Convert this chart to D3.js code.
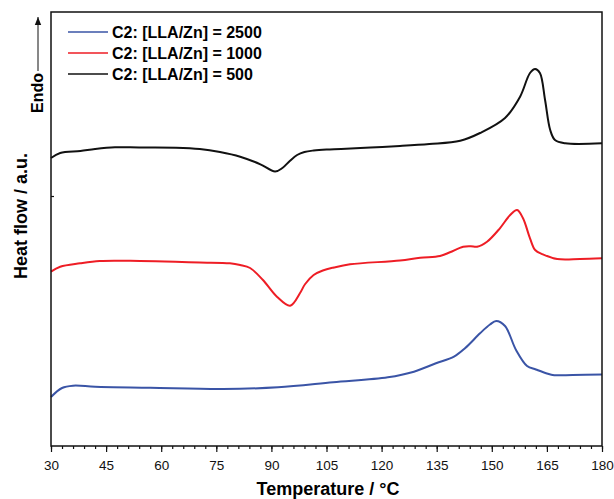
<!DOCTYPE html>
<html>
<head>
<meta charset="utf-8">
<script src="https://cdn.jsdelivr.net/npm/d3@7"></script>
<style>
  body { margin: 0; background: #fff; }
  text { font-family: Arial, "Liberation Sans", sans-serif; }
</style>
</head>
<body>
<div id="chart"></div>
<script>
// DSC curves, temperature (°C) vs heat flow (a.u., offset per curve)
var xTicks = [30, 45, 60, 75, 90, 105, 120, 135, 150, 165, 180];
var seriesNames = ['C2: [LLA/Zn] = 2500', 'C2: [LLA/Zn] = 1000', 'C2: [LLA/Zn] = 500'];
var seriesColors = ['#3a54a6', '#ee1d25', '#111111'];

var curve2500 = [[30,49],[33,58],[36,60.3],[42,59.3],[57,58.3],[76.8,57],[91.8,58.7],[106.8,63.7],
  [121.7,68.7],[128.8,74.3],[134.8,82.7],[139.7,89.3],[142.7,97.7],[146.8,112.7],[149.5,121.5],[151.2,125],
  [153.6,120],[156.6,96],[159.6,80],[162,76.5],[165,72.5],[167,70.8],[172,71],[180,71.5]];

var curve1000 = [[30,174.3],[32.5,179.3],[37.9,182.7],[43.3,185],[54.2,185],[63.8,184.3],[70.5,183.5],
  [78.7,182.7],[81.5,181],[84.2,178],[87.7,166],[91.5,149.3],[95.1,140.3],[97.8,153],[99.2,162],
  [101.5,171],[104,175.5],[107,178.5],[111.4,181.7],[125,185.5],[130.5,188.3],[135.9,190],[138.6,193.7],
  [142.2,199.3],[144.3,199.8],[146,199.3],[148.7,204.3],[152.2,217.7],[155,231],[156.9,236],[158.5,227.7],
  [160.4,207.7],[161.8,196],[163.9,191.7],[167.8,187],[174,187],[180,187.7]];

var curve500 = [[30,288],[32.5,293],[38,295],[42,297],[47.4,298.7],[54,298.5],[64,298.3],[70.5,297],
  [76,294],[81.5,289.3],[87,281.7],[91,274.5],[93,278],[95,285],[97,291],[99,294],[101.5,295.5],
  [105,296.5],[109,297],[117,298.5],[125,300],[133,302],[141.4,305.3],[146.8,313],[153.6,328],[157.7,349.3],
  [160.4,373],[161.8,377],[163.1,373],[164.5,346],[165.9,316],[167.2,306],[170,302.7],[180,302.7]];

var curves = [curve2500, curve1000, curve500];

var width = 614, height = 499;
var svg = d3.select('#chart').append('svg')
  .attr('width', width).attr('height', height);

var x = d3.scaleLinear().domain([30, 180]).range([51, 602]);
var y = d3.scaleLinear().domain([0, 434]).range([446, 12]);

// minor ticks every 3 °C
svg.append('g')
  .attr('transform', 'translate(0,446)')
  .call(d3.axisBottom(x).tickValues(d3.range(30, 181, 3)).tickSize(3).tickFormat(''))
  .call(g => g.select('.domain').remove());

svg.append('g')
  .attr('transform', 'translate(0,446)')
  .call(d3.axisBottom(x).tickValues(xTicks).tickSize(6).tickPadding(8).tickFormat(d3.format('d')))
  .call(g => g.select('.domain').remove())
  .call(g => g.selectAll('text').attr('font-size', 13.5).attr('font-family', 'Arial, "Liberation Sans", sans-serif').attr('fill', '#111'));

svg.append('g')
  .attr('transform', 'translate(51,0)')
  .call(d3.axisRight(y).tickValues([250]).tickSize(3).tickFormat(''))
  .call(g => g.select('.domain').remove());

svg.selectAll('.tick line').attr('stroke', '#111').attr('stroke-width', 1.2);

var line = d3.line()
  .x(d => x(d[0]))
  .y(d => y(d[1]))
  .curve(d3.curveCatmullRom.alpha(0.5));

svg.selectAll('.curve').data(curves).enter()
  .append('path')
  .attr('class', 'curve')
  .attr('d', line)
  .attr('fill', 'none')
  .attr('stroke', (d, i) => seriesColors[i])
  .attr('stroke-width', 2);

// frame
svg.append('rect')
  .attr('x', 51).attr('y', 12)
  .attr('width', 551).attr('height', 434)
  .attr('fill', 'none').attr('stroke', '#111').attr('stroke-width', 1.5);

// legend
var legend = svg.append('g');
seriesNames.forEach(function (name, i) {
  var ly = 32 + i * 21;
  legend.append('line')
    .attr('x1', 68).attr('x2', 108).attr('y1', ly).attr('y2', ly)
    .attr('stroke', seriesColors[i]).attr('stroke-width', 1.3);
  legend.append('text')
    .attr('x', 112).attr('y', ly + 6)
    .attr('font-size', 16).attr('font-weight', 'bold')
    .text(name);
});

// axis titles
svg.append('text')
  .attr('x', 328).attr('y', 495)
  .attr('text-anchor', 'middle')
  .attr('font-size', 18).attr('font-weight', 'bold')
  .text('Temperature / °C');

svg.append('text')
  .attr('transform', 'translate(27,216)rotate(-90)')
  .attr('text-anchor', 'middle')
  .attr('font-size', 18).attr('font-weight', 'bold')
  .text('Heat flow / a.u.');

// endo arrow
svg.append('defs').append('marker')
  .attr('id', 'arrow').attr('viewBox', '0 0 10 10')
  .attr('refX', 10).attr('refY', 5)
  .attr('markerWidth', 8).attr('markerHeight', 8)
  .attr('orient', 'auto')
  .append('path').attr('d', 'M0,1 L10,5 L0,9 Z').attr('fill', '#111');

svg.append('line')
  .attr('x1', 38).attr('x2', 38).attr('y1', 71).attr('y2', 17)
  .attr('stroke', '#111').attr('stroke-width', 1)
  .attr('marker-end', 'url(#arrow)');

svg.append('text')
  .attr('transform', 'translate(43,93)rotate(-90)')
  .attr('text-anchor', 'middle')
  .attr('font-size', 16).attr('font-weight', 'bold')
  .text('Endo');
</script>
</body>
</html>
